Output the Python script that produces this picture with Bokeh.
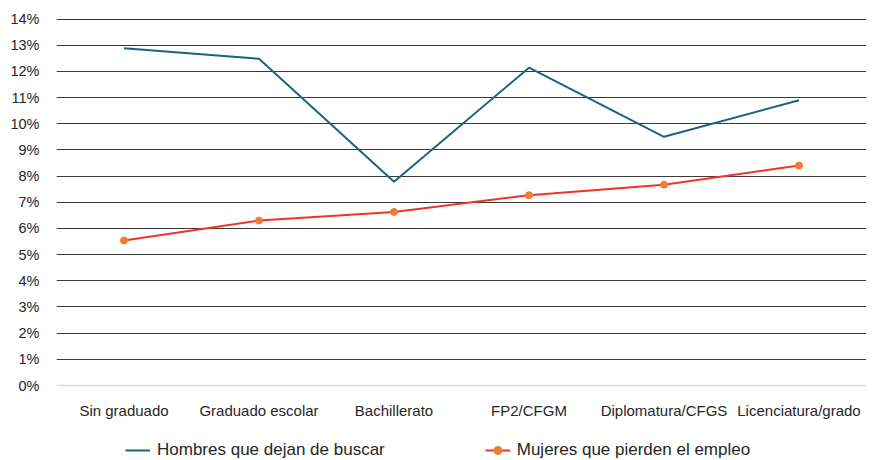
from bokeh.plotting import figure
from bokeh.layouts import column
from bokeh.models import Range1d, FixedTicker, Legend, LegendItem, CustomJSTickFormatter
from bokeh.embed import file_html
from bokeh.resources import INLINE

categories = ["Sin graduado", "Graduado escolar", "Bachillerato", "FP2/CFGM", "Diplomatura/CFGS", "Licenciatura/grado"]
hombres = [12.88, 12.48, 7.78, 12.14, 9.50, 10.90]
mujeres = [5.54, 6.30, 6.63, 7.27, 7.67, 8.40]
y_ticks = list(range(0, 15))
series_names = ["Hombres que dejan de buscar", "Mujeres que pierden el empleo"]

FONT = "Liberation Sans"
BLUE = "#1B6385"
RED = "#F2322B"
ORANGE = "#ED7D31"

p = figure(x_range=categories, y_range=Range1d(0, 14.02), width=870, height=432,
           output_backend="svg", toolbar_location=None,
           min_border_left=56, min_border_right=4, min_border_top=18, min_border_bottom=47)
p.outline_line_color = None
p.background_fill_color = "white"
p.border_fill_color = "white"

p.line(categories, hombres, line_color=BLUE, line_width=2)
p.line(categories, mujeres, line_color=RED, line_width=2)
p.scatter(categories, mujeres, size=7, fill_color=ORANGE, line_color=ORANGE)

p.yaxis.ticker = FixedTicker(ticks=y_ticks)
p.yaxis.formatter = CustomJSTickFormatter(code="return tick.toFixed(0) + '%';")
p.yaxis.axis_line_color = None
p.yaxis.major_tick_line_color = None
p.yaxis.minor_tick_line_color = None
p.yaxis.major_label_text_font = FONT
p.yaxis.major_label_text_font_size = "14.5px"
p.yaxis.major_label_text_color = "#262626"
p.yaxis.major_label_standoff = 11

p.xaxis.axis_line_color = "#d9d9d9"
p.xaxis.axis_line_width = 1.5
p.xaxis.major_tick_line_color = None
p.xaxis.minor_tick_line_color = None
p.xaxis.major_label_text_font = FONT
p.xaxis.major_label_text_font_size = "15px"
p.xaxis.major_label_text_color = "#262626"
p.xaxis.major_label_standoff = 10

p.xgrid.grid_line_color = None
p.ygrid.ticker = FixedTicker(ticks=y_ticks[1:])
p.ygrid.grid_line_color = "#3a3a3a"
p.ygrid.grid_line_width = 1

# legend strip below the chart (series drawn out of its visible range, only the legend shows)
lg = figure(width=870, height=27, output_backend="svg", toolbar_location=None,
            x_range=categories, y_range=Range1d(100, 101),
            x_axis_location=None, y_axis_location=None, min_border=0)
lg.outline_line_color = None
lg.grid.visible = False
l1 = lg.line(categories, hombres, line_color=BLUE, line_width=2)
l2 = lg.line(categories, mujeres, line_color=RED, line_width=2)
l3 = lg.scatter(categories, mujeres, size=7, fill_color=ORANGE, line_color=ORANGE)

legend = Legend(items=[LegendItem(label=series_names[0], renderers=[l1]),
                       LegendItem(label=series_names[1], renderers=[l2, l3])],
                orientation="horizontal", location=(69, -1), spacing=100,
                glyph_width=25, label_standoff=7, padding=0, margin=0,
                border_line_color=None, background_fill_alpha=0,
                label_text_font=FONT, label_text_font_size="17px", label_text_color="#262626")
lg.add_layout(legend, "center")

layout = column(p, lg, spacing=0)
open("out.html", "w").write(file_html(layout, INLINE))
